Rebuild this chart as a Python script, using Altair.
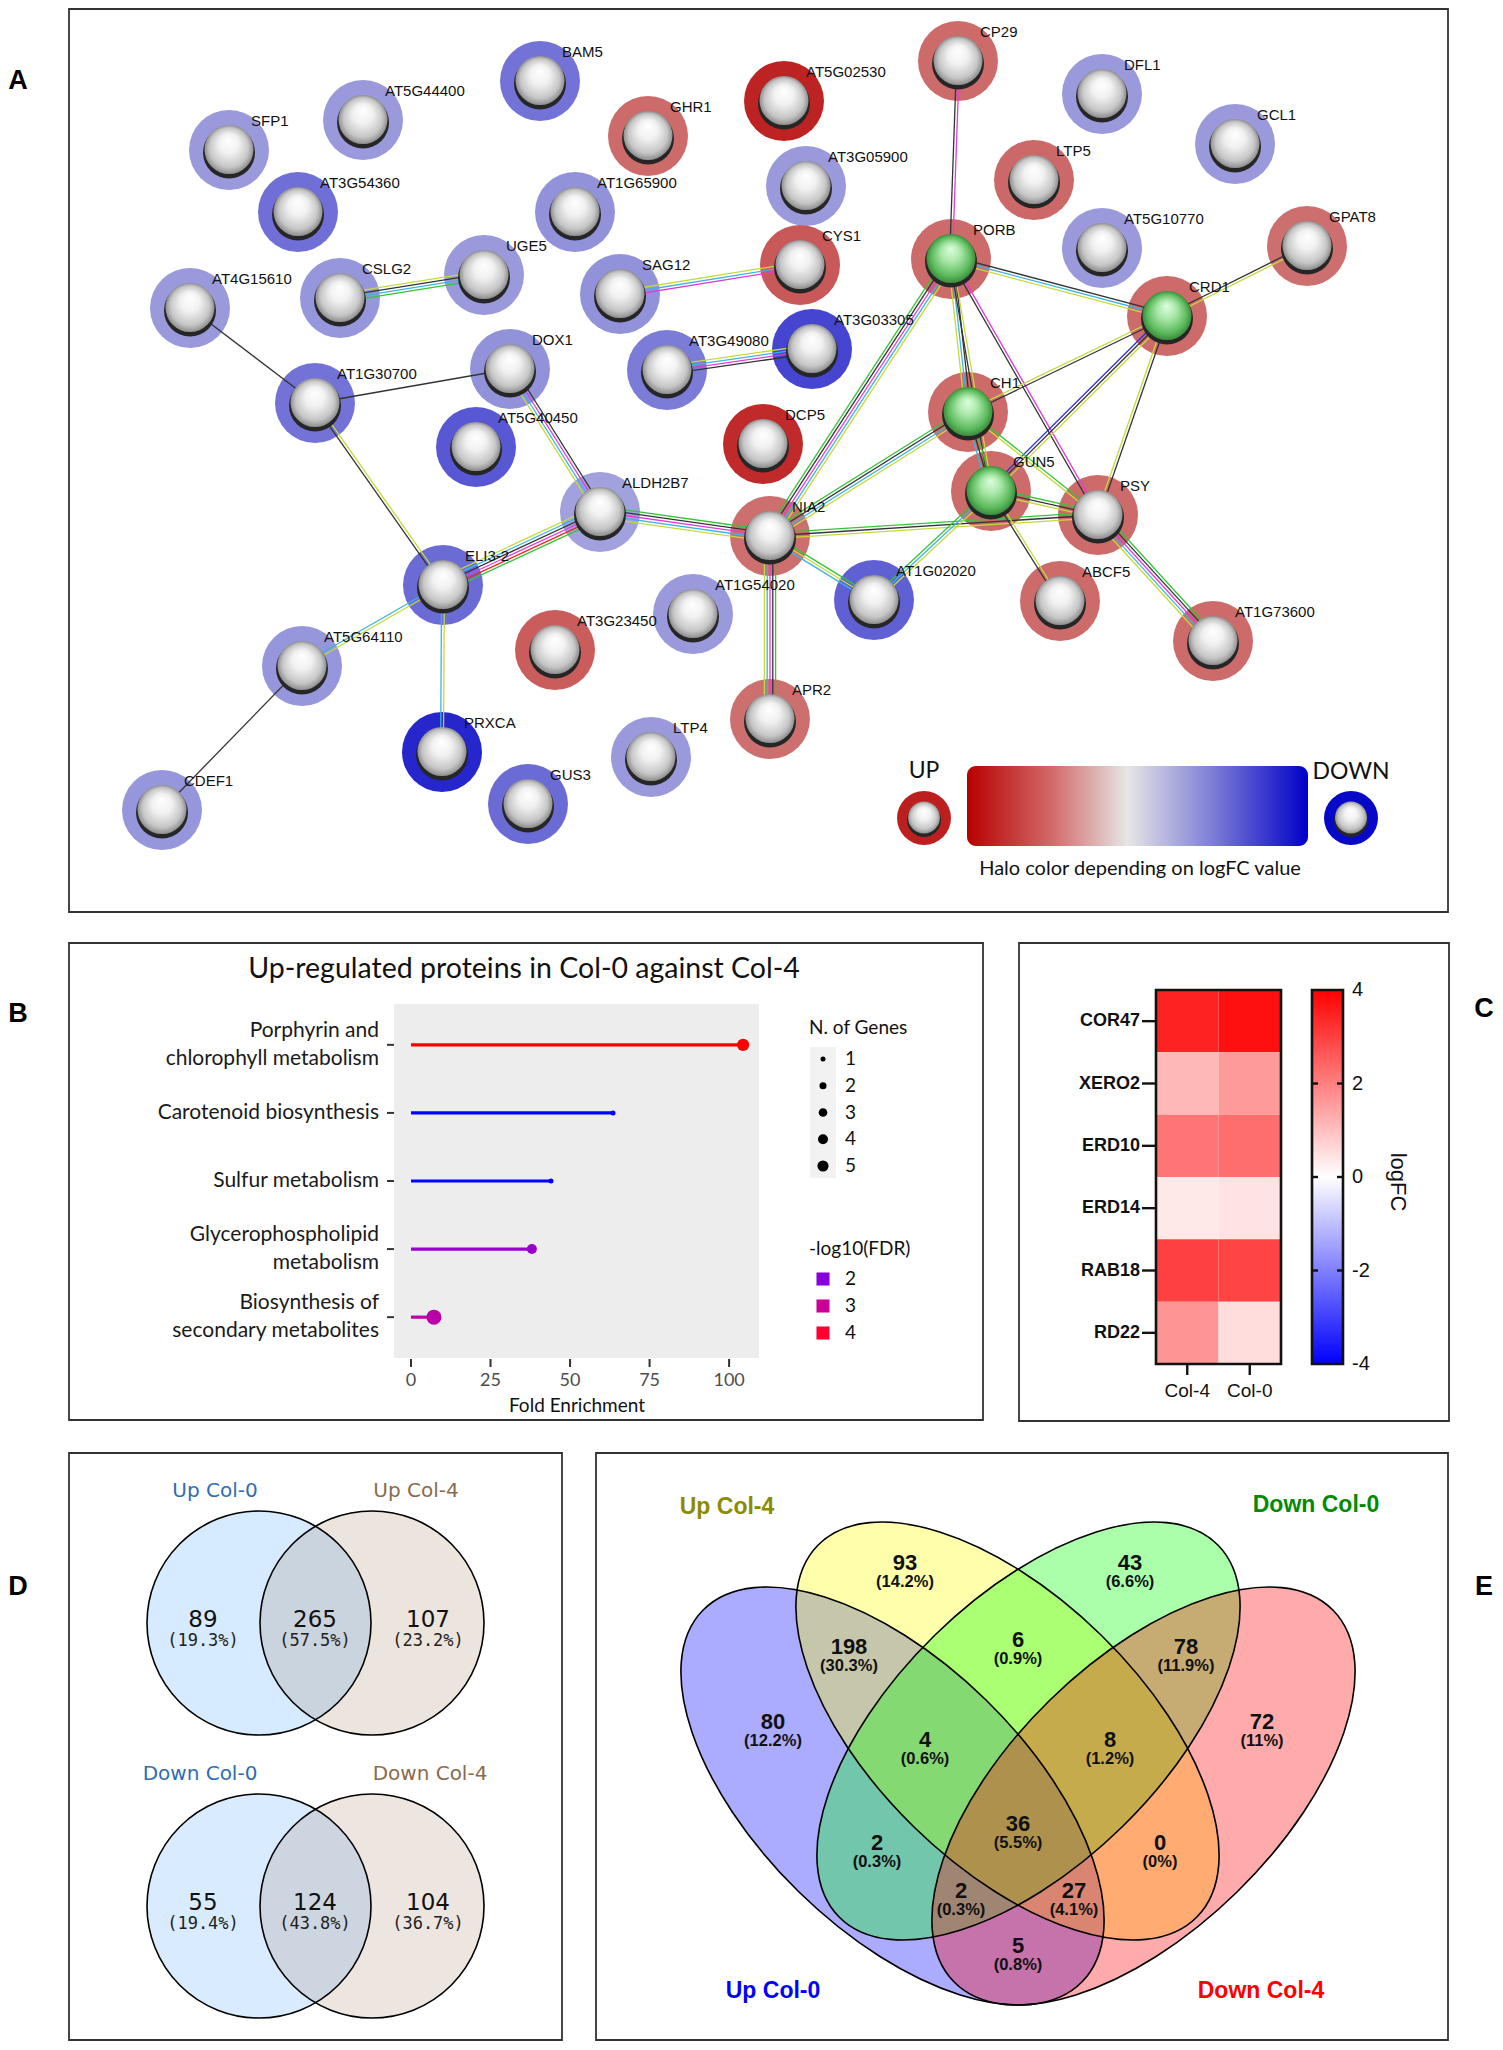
import altair as alt
import pandas as pd
import numpy as np

W, H = 1487, 2034
M = 8  # page margin; layout values below are in reference-image pixels


def P(v):
    return v - M


PX = alt.Scale(domain=[M, M + W], range=[0, W])
PY = alt.Scale(domain=[M, M + H], range=[0, H])


def X(f):
    return alt.X(f, type="quantitative", scale=PX, axis=None)


def Y(f):
    return alt.Y(f, type="quantitative", scale=PY, axis=None)


# ======================= DATA =======================
# ---- Panel A: STRING network ----
A_GENES = ["SFP1", "AT5G44400", "BAM5", "GHR1", "AT5G02530", "CP29", "DFL1", "GCL1",
           "AT3G54360", "AT1G65900", "AT3G05900", "LTP5", "AT5G10770", "GPAT8", "PORB",
           "CYS1", "AT4G15610", "CSLG2", "UGE5", "SAG12", "CRD1", "AT3G03305", "AT3G49080",
           "DOX1", "AT1G30700", "CH1", "AT5G40450", "DCP5", "GUN5", "ALDH2B7", "NIA2", "PSY",
           "ELI3-2", "AT1G54020", "AT1G02020", "ABCF5", "AT3G23450", "AT1G73600", "AT5G64110",
           "APR2", "PRXCA", "LTP4", "GUS3", "CDEF1"]
A_X = [229, 363, 540, 648, 784, 958, 1102, 1235, 298, 575, 806, 1034, 1102, 1307, 951, 800,
       190, 340, 484, 620, 1167, 812, 667, 510, 315, 968, 476, 763, 991, 600, 770, 1098, 443,
       693, 874, 1060, 555, 1213, 302, 770, 442, 651, 528, 162]
A_Y = [150, 120, 81, 136, 101, 61, 94, 144, 212, 212, 186, 180, 248, 246, 259, 265, 308, 298,
       275, 294, 316, 349, 370, 369, 403, 412, 447, 444, 491, 512, 536, 515, 585, 614, 600, 601,
       650, 641, 666, 719, 752, 757, 804, 810]
A_LOGFC = [-1.0, -1.0, -1.5, 1.6, 2.55, 1.6, -1.0, -1.0, -1.55, -1.1, -1.0, 1.65, -1.0, 1.55,
           1.6, 1.85, -1.0, -1.05, -1.0, -1.1, 1.6, -2.1, -1.4, -1.1, -1.5, 1.6, -1.85, 2.45,
           1.6, -0.9, 1.55, 1.6, -1.6, -1.0, -1.75, 1.6, 1.8, 1.6, -1.05, 1.55, -2.5, -1.0,
           -1.6, -1.05]
A_CORE = ["PORB", "CRD1", "CH1", "GUN5"]
A_EDGE_FROM = ["CSLG2", "AT4G15610", "AT1G30700", "AT1G30700", "DOX1", "SAG12", "AT3G49080",
               "ELI3-2", "ALDH2B7", "ELI3-2", "ELI3-2", "AT5G64110", "NIA2", "NIA2", "NIA2",
               "NIA2", "NIA2", "AT1G02020", "CP29", "PORB", "PORB", "PORB", "PORB", "CRD1",
               "CRD1", "CRD1", "CRD1", "CH1", "GUN5", "GUN5", "PSY", "CH1"]
A_EDGE_TO = ["UGE5", "AT1G30700", "DOX1", "ELI3-2", "ALDH2B7", "CYS1", "AT3G03305",
             "ALDH2B7", "NIA2", "AT5G64110", "PRXCA", "CDEF1", "APR2", "PORB", "CH1", "PSY",
             "AT1G02020", "GUN5", "PORB", "CRD1", "CH1", "GUN5", "PSY", "GPAT8", "CH1", "GUN5",
             "PSY", "GUN5", "PSY", "ABCF5", "AT1G73600", "PSY"]
A_EDGE_EVIDENCE = ["yg k c g", "k", "k", "yg k", "k m c yg", "yg c m", "yg c m k",
                   "yg c k m r g", "g k m c yg", "yg c", "yg c", "k", "g k m c yg",
                   "g k m c yg", "g k c yg", "g k yg", "g yg c", "g c yg", "m k", "k c yg",
                   "k c yg", "yg k", "m k", "k yg", "k yg", "yg k b", "k yg", "g k c",
                   "g k yg", "yg k", "g k m c yg", "g yg"]
A_LEGEND_LABEL = ["UP", "DOWN"]
A_LEGEND_FC = [2.6, -2.9]

# ---- Panel B: enrichment lollipop ----
B_PATHWAY = ["Porphyrin and chlorophyll metabolism", "Carotenoid biosynthesis",
             "Sulfur metabolism", "Glycerophospholipid metabolism",
             "Biosynthesis of secondary metabolites"]
B_LABEL = ["Porphyrin and\nchlorophyll metabolism", "Carotenoid biosynthesis",
           "Sulfur metabolism", "Glycerophospholipid\nmetabolism",
           "Biosynthesis of\nsecondary metabolites"]
B_FOLD = [104.4, 63.5, 44.0, 38.0, 7.2]
B_GENES = [6, 1, 1, 4, 9]
B_FDR = [4.4, 1.3, 1.3, 2.25, 2.75]
B_XTICKS = [0, 25, 50, 75, 100]
B_SIZE_KEYS = [1, 2, 3, 4, 5]
B_FDR_KEYS = [2, 3, 4]

# ---- Panel C: heatmap ----
C_GENE = ["COR47", "XERO2", "ERD10", "ERD14", "RAB18", "RD22"]
C_SAMPLE = ["Col-4", "Col-0"]
C_COL4 = [3.47, 1.11, 2.16, 0.36, 3.00, 1.68]
C_COL0 = [3.75, 1.58, 2.27, 0.45, 2.93, 0.53]
C_TICKS = [4, 2, 0, -2, -4]
C_TICK_LABELS = ["4", "2", "0", "-2", "-4"]

# ---- Panel D: two-set Venns ----
D_SETS_UP = ["Up Col-0", "Up Col-4"]
D_SETS_DOWN = ["Down Col-0", "Down Col-4"]
D_UP_COUNT = [89, 265, 107]
D_UP_PCT = ["(19.3%)", "(57.5%)", "(23.2%)"]
D_DOWN_COUNT = [55, 124, 104]
D_DOWN_PCT = ["(19.4%)", "(43.8%)", "(36.7%)"]

# ---- Panel E: four-set Venn ----
E_SETS = ["Up Col-0", "Up Col-4", "Down Col-0", "Down Col-4"]
E_COUNT = [93, 43, 198, 6, 78, 80, 72, 4, 8, 36, 2, 0, 2, 27, 5]
E_PCT = ["(14.2%)", "(6.6%)", "(30.3%)", "(0.9%)", "(11.9%)", "(12.2%)", "(11%)", "(0.6%)",
         "(1.2%)", "(5.5%)", "(0.3%)", "(0%)", "(0.3%)", "(4.1%)", "(0.8%)"]

# ======================= LAYOUT (reference px) =======================
FRAME = pd.DataFrame({"x": [69, 69, 1019, 69, 596], "x2": [1448, 983, 1449, 562, 1448],
                      "y": [9, 943, 943, 1453, 1453], "y2": [912, 1420, 1421, 2040, 2040]})
LETTERS = pd.DataFrame({"t": ["A", "B", "C", "D", "E"], "x": [18, 18, 1484, 18, 1484],
                        "y": [81, 1014, 1009, 1587, 1587]})

layers = []


def text_layer(df, **mk):
    return alt.Chart(df).mark_text(**mk).encode(x=X("x"), y=Y("y"), text="t:N")


# ---------- frames ----------
layers.append(alt.Chart(FRAME).mark_rect(fillOpacity=0, stroke="#333333", strokeWidth=1.8)
              .encode(x=X("x"), x2="x2", y=Y("y"), y2="y2"))
layers.append(text_layer(LETTERS, font="Liberation Sans", fontSize=27, fontWeight="bold",
                         color="#000000", align="center", baseline="middle"))

# ---------- Panel A ----------
nodes = pd.DataFrame({"gene": A_GENES, "x": A_X, "y": A_Y, "logfc": A_LOGFC})
nodes["core"] = nodes["gene"].isin(A_CORE)
pos = {g: (x, y) for g, x, y in zip(A_GENES, A_X, A_Y)}
rows = []
for a, b, ev in zip(A_EDGE_FROM, A_EDGE_TO, A_EDGE_EVIDENCE):
    (x1, y1), (x2, y2) = pos[a], pos[b]
    L = np.hypot(x2 - x1, y2 - y1)
    nx, ny = -(y2 - y1) / L, (x2 - x1) / L
    kinds = ev.split()
    n = len(kinds)
    for k, kind in enumerate(kinds):
        o = (k - (n - 1) / 2) * 2.8
        rows.append({"x": x1 + nx * o, "y": y1 + ny * o, "x2": x2 + nx * o,
                     "y2": y2 + ny * o, "ev": kind})
edges = pd.DataFrame(rows)

halo_scale = alt.Scale(domain=[-3, 0, 3], range=["#0000c8", "#e6e6e6", "#b70000"],
                       interpolate="rgb")
EV_SCALE = alt.Scale(domain=["k", "yg", "c", "m", "g", "b", "r"],
                     range=["#333333", "#c5da3a", "#3cb4e0", "#e03cdc", "#35c435", "#2a2ae6",
                            "#e62a2a"])
SPHERE = {"gradient": "radial", "x1": 0.5, "y1": 0.3, "r1": 0, "x2": 0.5, "y2": 0.5, "r2": 0.5,
          "stops": [{"offset": 0, "color": "#ffffff"}, {"offset": 0.4, "color": "#f1f1f1"},
                    {"offset": 0.8, "color": "#c6c6c6"}, {"offset": 1, "color": "#8e8e8e"}]}
SPHERE_G = {"gradient": "radial", "x1": 0.5, "y1": 0.3, "r1": 0, "x2": 0.5, "y2": 0.5, "r2": 0.5,
            "stops": [{"offset": 0, "color": "#dcffdc"}, {"offset": 0.4, "color": "#a8e6a8"},
                      {"offset": 0.8, "color": "#5cba5c"}, {"offset": 1, "color": "#3c8c3c"}]}

layers.append(alt.Chart(nodes).mark_circle(size=6400, opacity=1)
              .encode(x=X("x"), y=Y("y"),
                      color=alt.Color("logfc:Q", scale=halo_scale, legend=None)))
layers.append(alt.Chart(edges).mark_rule(strokeWidth=1.3)
              .encode(x=X("x"), x2="x2", y=Y("y"), y2="y2",
                      color=alt.Color("ev:N", scale=EV_SCALE, legend=None)))
layers.append(alt.Chart(nodes).mark_circle(size=2704, opacity=1, color="#262626", yOffset=2.5)
              .encode(x=X("x"), y=Y("y")))
layers.append(alt.Chart(nodes).transform_filter("!datum.core")
              .mark_circle(size=2401, opacity=1, color=SPHERE, yOffset=-0.5)
              .encode(x=X("x"), y=Y("y")))
layers.append(alt.Chart(nodes).transform_filter("datum.core")
              .mark_circle(size=2401, opacity=1, color=SPHERE_G, yOffset=-0.5)
              .encode(x=X("x"), y=Y("y")))
layers.append(alt.Chart(nodes).mark_text(align="left", baseline="middle", dx=22, dy=-29,
                                         font="Liberation Sans", fontSize=15, color="#111111")
              .encode(x=X("x"), y=Y("y"), text="gene:N"))

# legend of panel A
legA = pd.DataFrame({"t": A_LEGEND_LABEL, "fc": A_LEGEND_FC, "x": [924, 1351], "y": [818, 818],
                     "ty": [771, 772]})
layers.append(alt.Chart(legA).mark_circle(size=2916, opacity=1)
              .encode(x=X("x"), y=Y("y"), color=alt.Color("fc:Q", scale=halo_scale, legend=None)))
layers.append(alt.Chart(legA).mark_circle(size=1156, opacity=1, color="#262626", yOffset=2)
              .encode(x=X("x"), y=Y("y")))
layers.append(alt.Chart(legA).mark_circle(size=1024, opacity=1, color=SPHERE, yOffset=-0.5)
              .encode(x=X("x"), y=Y("y")))
layers.append(alt.Chart(legA).mark_text(font="Lato", fontSize=23, color="#111111")
              .encode(x=X("x"), y=Y("ty"), text="t:N"))
GRAD_A = {"gradient": "linear", "x1": 0, "y1": 0, "x2": 1, "y2": 0,
          "stops": [{"offset": 0, "color": "#b80000"}, {"offset": 0.25, "color": "#d26a6a"},
                    {"offset": 0.47, "color": "#e6e6e6"}, {"offset": 0.72, "color": "#7d7dd6"},
                    {"offset": 1, "color": "#0000c8"}]}
layers.append(alt.Chart(pd.DataFrame({"x": [967], "x2": [1308], "y": [766], "y2": [846]}))
              .mark_rect(cornerRadius=9, color=GRAD_A)
              .encode(x=X("x"), x2="x2", y=Y("y"), y2="y2"))
layers.append(text_layer(pd.DataFrame({"t": ["Halo color depending on logFC value"], "x": [1140],
                                       "y": [869]}),
                         font="Lato", fontSize=20, color="#111111"))

# ---------- Panel B ----------
dfB = pd.DataFrame({"path": B_PATHWAY, "label": B_LABEL, "fe": B_FOLD, "genes": B_GENES,
                    "fdr": B_FDR})
dfB["zero"] = 0
dfB["multi"] = dfB["label"].str.contains("\n")
bx = alt.Scale(domain=[-5.35, 109.4], range=[P(394), P(759)])
by = alt.Scale(type="point", domain=B_PATHWAY, range=[P(1004), P(1358)], padding=0.6)
fdr_scale = alt.Scale(domain=[1.3, 2, 3, 4, 4.4],
                      range=["#0000ff", "#8800dd", "#cc0099", "#ff0033", "#ff0000"],
                      interpolate="rgb")
size_scale = alt.Scale(domain=[1, 9], range=[25, 225])

layers.append(alt.Chart(pd.DataFrame({"x": [394], "x2": [759], "y": [1004], "y2": [1358]}))
              .mark_rect(color="#ededed").encode(x=X("x"), x2="x2", y=Y("y"), y2="y2"))
layers.append(alt.Chart(dfB).mark_rule(strokeWidth=3.2)
              .encode(x=alt.X("zero:Q", scale=bx, axis=None), x2="fe",
                      y=alt.Y("path:N", scale=by, axis=None),
                      color=alt.Color("fdr:Q", scale=fdr_scale, legend=None)))
layers.append(alt.Chart(dfB).mark_circle(opacity=1)
              .encode(x=alt.X("fe:Q", scale=bx, axis=None), y=alt.Y("path:N", scale=by, axis=None),
                      size=alt.Size("genes:Q", scale=size_scale, legend=None),
                      color=alt.Color("fdr:Q", scale=fdr_scale, legend=None)))
for flt, dy in [("!datum.multi", 0), ("datum.multi", -14)]:
    layers.append(alt.Chart(dfB).transform_filter(flt)
                  .mark_text(align="right", baseline="middle", lineBreak="\n", lineHeight=28,
                             dy=dy, font="Lato", fontSize=21, color="#1a1a1a")
                  .encode(x=alt.value(P(379)), y=alt.Y("path:N", scale=by, axis=None),
                          text="label:N"))
layers.append(alt.Chart(dfB).mark_rule(color="#333333", strokeWidth=2)
              .encode(x=alt.value(P(387)), x2=alt.value(P(394)),
                      y=alt.Y("path:N", scale=by, axis=None)))
dfBt = pd.DataFrame({"v": B_XTICKS, "t": [str(v) for v in B_XTICKS]})
layers.append(alt.Chart(dfBt).mark_rule(color="#333333", strokeWidth=2)
              .encode(x=alt.X("v:Q", scale=bx, axis=None), y=alt.value(P(1359)),
                      y2=alt.value(P(1367))))
layers.append(alt.Chart(dfBt).mark_text(font="Lato", fontSize=18, color="#4d4d4d",
                                        baseline="middle")
              .encode(x=alt.X("v:Q", scale=bx, axis=None), y=alt.value(P(1381)), text="t:N"))
layers.append(text_layer(pd.DataFrame({"t": ["Fold Enrichment"], "x": [577], "y": [1406]}),
                         font="Lato", fontSize=19, color="#111111", baseline="middle"))
layers.append(text_layer(pd.DataFrame({"t": ["Up-regulated proteins in Col-0 against Col-4"],
                                       "x": [524], "y": [969]}),
                         font="Lato", fontSize=28.5, color="#111111", baseline="middle"))
layers.append(text_layer(pd.DataFrame({"t": ["N. of Genes", "-log10(FDR)"], "x": [809, 809],
                                       "y": [1028, 1249]}),
                         font="Lato", fontSize=19, color="#111111", align="left",
                         baseline="middle"))
layers.append(alt.Chart(pd.DataFrame({"x": [810], "x2": [836], "y": [1047], "y2": [1178]}))
              .mark_rect(color="#f2f2f2").encode(x=X("x"), x2="x2", y=Y("y"), y2="y2"))
dfBs = pd.DataFrame({"g": B_SIZE_KEYS, "t": [str(v) for v in B_SIZE_KEYS]})
ky1 = alt.Scale(type="point", domain=B_SIZE_KEYS, range=[P(1059), P(1166)], padding=0)
layers.append(alt.Chart(dfBs).mark_circle(opacity=1, color="#000000")
              .encode(x=alt.value(P(823)), y=alt.Y("g:O", scale=ky1, axis=None),
                      size=alt.Size("g:Q", scale=size_scale, legend=None)))
layers.append(alt.Chart(dfBs).mark_text(align="left", baseline="middle", font="Lato",
                                        fontSize=19, color="#111111")
              .encode(x=alt.value(P(845)), y=alt.Y("g:O", scale=ky1, axis=None), text="t:N"))
dfBf = pd.DataFrame({"f": B_FDR_KEYS, "t": [str(v) for v in B_FDR_KEYS]})
ky2 = alt.Scale(type="point", domain=B_FDR_KEYS, range=[P(1279), P(1333)], padding=0)
layers.append(alt.Chart(dfBf).mark_square(opacity=1, size=170)
              .encode(x=alt.value(P(823)), y=alt.Y("f:O", scale=ky2, axis=None),
                      color=alt.Color("f:Q", scale=fdr_scale, legend=None)))
layers.append(alt.Chart(dfBf).mark_text(align="left", baseline="middle", font="Lato",
                                        fontSize=19, color="#111111")
              .encode(x=alt.value(P(845)), y=alt.Y("f:O", scale=ky2, axis=None), text="t:N"))

# ---------- Panel C ----------
dfC = pd.DataFrame({"gene": C_GENE * 2, "sample": ["Col-4"] * 6 + ["Col-0"] * 6,
                    "logfc": C_COL4 + C_COL0})
cx = alt.Scale(type="band", domain=C_SAMPLE, range=[P(1156), P(1281)], paddingInner=0,
               paddingOuter=0)
cy = alt.Scale(type="band", domain=C_GENE, range=[P(990), P(1364)], paddingInner=0,
               paddingOuter=0)
ccol = alt.Scale(domain=[-4, 0, 4], range=["#0000ff", "#ffffff", "#ff0000"], interpolate="rgb")
layers.append(alt.Chart(dfC).mark_rect()
              .encode(x=alt.X("sample:N", scale=cx, axis=None), y=alt.Y("gene:N", scale=cy, axis=None),
                      color=alt.Color("logfc:Q", scale=ccol, legend=None)))
GRAD_C = {"gradient": "linear", "x1": 0, "y1": 1, "x2": 0, "y2": 0,
          "stops": [{"offset": 0, "color": "#0000ff"}, {"offset": 0.5, "color": "#ffffff"},
                    {"offset": 1, "color": "#ff0000"}]}
layers.append(alt.Chart(pd.DataFrame({"x": [1312], "x2": [1343], "y": [990], "y2": [1364]}))
              .mark_rect(color=GRAD_C).encode(x=X("x"), x2="x2", y=Y("y"), y2="y2"))
layers.append(alt.Chart(pd.DataFrame({"x": [1156, 1312], "x2": [1281, 1343], "y": [990, 990],
                                      "y2": [1364, 1364]}))
              .mark_rect(fillOpacity=0, stroke="#111111", strokeWidth=2.6)
              .encode(x=X("x"), x2="x2", y=Y("y"), y2="y2"))
dfCg = pd.DataFrame({"gene": C_GENE})
layers.append(alt.Chart(dfCg).mark_rule(color="#111111", strokeWidth=2.4)
              .encode(x=alt.value(P(1142)), x2=alt.value(P(1156)),
                      y=alt.Y("gene:N", scale=cy, axis=None)))
layers.append(alt.Chart(dfCg).mark_text(align="right", baseline="middle", font="Liberation Sans",
                                        fontSize=18, fontWeight="bold", color="#111111")
              .encode(x=alt.value(P(1140)), y=alt.Y("gene:N", scale=cy, axis=None), text="gene:N"))
dfCs = pd.DataFrame({"sample": C_SAMPLE})
layers.append(alt.Chart(dfCs).mark_rule(color="#111111", strokeWidth=2.4)
              .encode(x=alt.X("sample:N", scale=cx, axis=None), y=alt.value(P(1364)),
                      y2=alt.value(P(1375))))
layers.append(alt.Chart(dfCs).mark_text(baseline="middle", font="Liberation Sans", fontSize=19,
                                        color="#111111")
              .encode(x=alt.X("sample:N", scale=cx, axis=None), y=alt.value(P(1391)),
                      text="sample:N"))
cby = alt.Scale(domain=[-4, 4], range=[P(1364), P(990)])
dfCt = pd.DataFrame({"v": C_TICKS, "t": C_TICK_LABELS})
layers.append(alt.Chart(dfCt).mark_text(align="left", baseline="middle", font="Liberation Sans",
                                        fontSize=20, color="#111111")
              .encode(x=alt.value(P(1352)), y=alt.Y("v:Q", scale=cby, axis=None), text="t:N"))
dfCi = dfCt[(dfCt["v"] > -4) & (dfCt["v"] < 4)]
for xa, xb in [(1312, 1318), (1337, 1343)]:
    layers.append(alt.Chart(dfCi).mark_rule(color="#111111", strokeWidth=2.4)
                  .encode(x=alt.value(P(xa)), x2=alt.value(P(xb)),
                          y=alt.Y("v:Q", scale=cby, axis=None)))
layers.append(text_layer(pd.DataFrame({"t": ["logFC"], "x": [1398], "y": [1182]}),
                         font="Liberation Sans", fontSize=22, color="#111111", angle=90,
                         baseline="middle"))

# ---------- Panel D ----------
dfDc = pd.DataFrame({"set": D_SETS_UP + D_SETS_DOWN, "x": [259, 372, 259, 372],
                     "y": [1623, 1623, 1906, 1906]})
dcol = alt.Scale(domain=D_SETS_UP + D_SETS_DOWN, range=["#1e90ff", "#916a42", "#1e90ff", "#916a42"])
dop = alt.Scale(domain=D_SETS_UP + D_SETS_DOWN, range=[0.18, 0.165, 0.18, 0.165])
layers.append(alt.Chart(dfDc).mark_circle(size=50176)
              .encode(x=X("x"), y=Y("y"), color=alt.Color("set:N", scale=dcol, legend=None),
                      opacity=alt.Opacity("set:N", scale=dop, legend=None)))
layers.append(alt.Chart(dfDc).mark_point(size=50176, shape="circle", filled=False,
                                         color="#000000", strokeWidth=1.6, opacity=1)
              .encode(x=X("x"), y=Y("y")))
dfDl = pd.DataFrame({"t": D_SETS_UP + D_SETS_DOWN, "x": [215, 416, 200, 430],
                     "y": [1491, 1491, 1774, 1774]})
layers.append(alt.Chart(dfDl).mark_text(font="DejaVu Sans", fontSize=20, baseline="middle")
              .encode(x=X("x"), y=Y("y"), text="t:N",
                      color=alt.Color("t:N", scale=alt.Scale(domain=D_SETS_UP + D_SETS_DOWN,
                                                             range=["#2f6db5", "#8b6a4d", "#2f6db5",
                                                                    "#8b6a4d"]), legend=None)))
dfDn = pd.DataFrame({"t": [str(v) for v in D_UP_COUNT + D_DOWN_COUNT],
                     "p": D_UP_PCT + D_DOWN_PCT,
                     "x": [203, 315, 428] * 2, "y": [1620] * 3 + [1903] * 3})
dfDn["yp"] = dfDn["y"] + 21
layers.append(alt.Chart(dfDn).mark_text(font="DejaVu Sans", fontSize=23, baseline="middle",
                                        color="#111111")
              .encode(x=X("x"), y=Y("y"), text="t:N"))
layers.append(alt.Chart(dfDn).mark_text(font="DejaVu Sans Mono", fontSize=17,
                                        baseline="middle", color="#222222")
              .encode(x=X("x"), y=Y("yp"), text="p:N"))

# ---------- Panel E ----------
ELL = ("M -1 0 C -1 -0.2789 -0.5523 -0.505 0 -0.505 C 0.5523 -0.505 1 -0.2789 1 0 "
       "C 1 0.2789 0.5523 0.505 0 0.505 C -0.5523 0.505 -1 0.2789 -1 0 Z")
ESIZE = 281750
dfE = pd.DataFrame({"set": E_SETS, "x": [892.5, 1007.5, 1028.5, 1143.5],
                    "y": [1796, 1731, 1731, 1796]})
ecol = alt.Scale(domain=E_SETS, range=["#0000ff", "#ffff00", "#00ff00", "#ff0000"])
for sets, ang in [(E_SETS[:2], 44.4), (E_SETS[2:], 135.6)]:
    layers.append(alt.Chart(dfE[dfE["set"].isin(sets)])
                  .mark_point(shape=ELL, size=ESIZE, filled=True, fillOpacity=0.33,
                              strokeOpacity=0, opacity=1, angle=ang)
                  .encode(x=X("x"), y=Y("y"), color=alt.Color("set:N", scale=ecol, legend=None)))
for sets, ang in [(E_SETS[:2], 44.4), (E_SETS[2:], 135.6)]:
    layers.append(alt.Chart(dfE[dfE["set"].isin(sets)])
                  .mark_point(shape=ELL, size=ESIZE, filled=False, color="#000000",
                              strokeWidth=1.6, opacity=1, angle=ang)
                  .encode(x=X("x"), y=Y("y")))
dfEl = pd.DataFrame({"t": E_SETS, "x": [773, 727, 1316, 1261], "y": [1991, 1507, 1505, 1991]})
layers.append(alt.Chart(dfEl).mark_text(font="Liberation Sans", fontSize=23, fontWeight="bold",
                                        baseline="middle")
              .encode(x=X("x"), y=Y("y"), text="t:N",
                      color=alt.Color("t:N", scale=alt.Scale(domain=E_SETS,
                                                             range=["#0000ff", "#8b8b00", "#008b00",
                                                                    "#ff0000"]), legend=None)))
dfEn = pd.DataFrame({"t": [str(v) for v in E_COUNT], "p": E_PCT,
                     "x": [905, 1130, 849, 1018, 1186, 773, 1262, 925, 1110, 1018, 877, 1160, 961,
                           1074, 1018],
                     "y": [1563, 1563, 1647, 1640, 1647, 1722, 1722, 1740, 1740, 1824, 1843, 1843,
                           1891, 1891, 1946]})
dfEn["yp"] = dfEn["y"] + 19
layers.append(alt.Chart(dfEn).mark_text(font="Liberation Sans", fontSize=22, fontWeight="bold",
                                        baseline="middle", color="#111111")
              .encode(x=X("x"), y=Y("y"), text="t:N"))
layers.append(alt.Chart(dfEn).mark_text(font="Liberation Sans", fontSize=16.5, fontWeight="bold",
                                        baseline="middle", color="#111111")
              .encode(x=X("x"), y=Y("yp"), text="p:N"))

chart = (alt.layer(*layers)
         .resolve_scale(x="independent", y="independent", color="independent",
                        size="independent", opacity="independent")
         .properties(width=W, height=H, padding=0, autosize=alt.AutoSizeParams(type="none"),
                     background="white")
         .configure_view(stroke=None))

chart.save("out.html", embed_options={"renderer": "svg", "actions": False})
